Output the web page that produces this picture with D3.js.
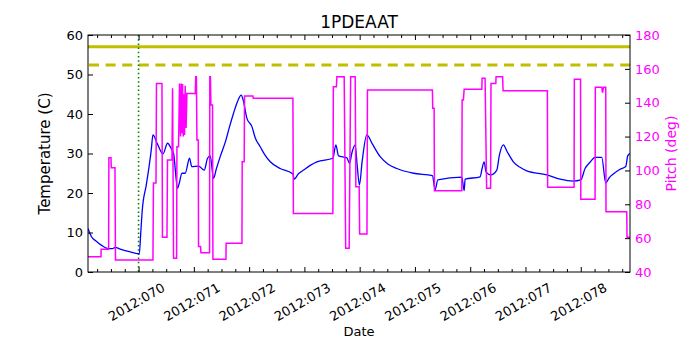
<!DOCTYPE html>
<html>
<head>
<meta charset="utf-8">
<script src="https://cdn.jsdelivr.net/npm/d3@7"></script>
<style>
  body { margin: 0; background: #fff; }
  text { font-family: "DejaVu Sans", sans-serif; }
</style>
</head>
<body>
<div id="chart"></div>
<script>
// day of year 2012, temperature (C)
var tempDays = [69.085, 69.145, 69.235, 69.325, 69.429, 69.524, 69.579, 69.669, 69.814, 70.013,
  70.040, 70.067, 70.139, 70.193, 70.230, 70.260, 70.338, 70.441, 70.524, 70.591,
  70.633, 70.705, 70.736, 70.785, 70.844, 70.922, 70.962, 71.085, 71.188, 71.248,
  71.297, 71.356, 71.405, 71.477, 71.580, 71.640, 71.718, 71.785, 71.857, 71.893,
  71.960, 72.051, 72.110, 72.201, 72.291, 72.382, 72.562, 72.792, 72.816, 72.888,
  72.984, 73.105, 73.226, 73.515, 73.570, 73.617, 73.769, 73.816, 73.865, 73.919,
  73.955, 73.996, 74.045, 74.130, 74.226, 74.371, 74.515, 74.673, 74.973, 75.316,
  75.365, 75.414, 75.848, 75.890, 75.908, 76.179, 76.215, 76.251, 76.288, 76.373,
  76.481, 76.528, 76.600, 76.667, 76.781, 76.902, 77.024, 77.385, 77.626, 77.866,
  78.000, 78.078, 78.168, 78.259, 78.380, 78.452, 78.512, 78.590, 78.711, 78.814,
  78.850, 78.891];
var tempValues = [11.0, 9.0, 7.8, 6.8, 6.0, 5.9, 6.25, 5.8, 5.2, 4.6,
  10.0, 15.7, 22.0, 27.0, 31.0, 34.7, 32.5, 29.9, 32.6, 31.2,
  30.0, 21.2, 22.5, 25.0, 25.0, 28.8, 26.7, 26.8, 25.8, 28.8,
  29.4, 23.7, 26.0, 29.2, 33.4, 36.5, 40.2, 43.0, 44.8, 43.5,
  38.9, 36.8, 34.0, 31.7, 29.5, 27.9, 26.2, 24.8, 23.5, 24.8,
  25.8, 27.0, 27.9, 28.8, 32.2, 29.4, 28.9, 27.5, 30.5, 32.2,
  27.0, 22.0, 28.0, 34.7, 32.5, 29.2, 27.3, 26.2, 25.0, 24.4,
  20.8, 23.3, 24.0, 20.6, 23.5, 24.1, 26.2, 27.9, 25.3, 24.6,
  25.8, 29.6, 32.2, 30.5, 27.9, 26.5, 25.6, 24.6, 23.5, 23.0,
  23.3, 26.2, 27.8, 29.0, 29.0, 22.5, 23.8, 24.8, 26.0, 26.7,
  29.4, 30.0];

// day of year 2012, pitch (deg)
var pitchDays = [69.085, 69.320, 69.322, 69.458, 69.463, 69.501, 69.506, 69.573, 69.582, 70.260,
  70.269, 70.315, 70.324, 70.423, 70.432, 70.514, 70.523, 70.604, 70.615, 70.633,
  70.688, 70.694, 70.723, 70.741, 70.759, 70.772, 70.785, 70.796, 70.808, 70.821,
  70.832, 70.844, 70.860, 70.875, 71.025, 71.034, 71.046, 71.056, 71.080, 71.085,
  71.121, 71.128, 71.284, 71.289, 71.300, 71.309, 71.338, 71.345, 71.580, 71.584,
  71.870, 71.875, 71.911, 71.917, 72.069, 72.075, 72.792, 72.801, 73.515, 73.524,
  73.579, 73.588, 73.720, 73.747, 73.810, 73.837, 73.919, 73.931, 73.991, 74.000,
  74.132, 74.141, 75.316, 75.322, 75.347, 75.353, 75.848, 75.854, 75.877, 75.890,
  76.210, 76.215, 76.269, 76.297, 76.369, 76.376, 76.463, 76.468, 76.586, 76.595,
  77.396, 77.401, 77.879, 77.884, 77.996, 78.001, 78.259, 78.264, 78.380, 78.394,
  78.412, 78.452, 78.457, 78.832, 78.837, 78.891];
var pitchValues = [49.0, 49.0, 53.4, 53.4, 107.5, 107.5, 101.6, 101.6, 47.1, 47.1,
  92.6, 92.6, 151.4, 151.4, 60.5, 60.5, 106.2, 106.2, 148.5, 48.1,
  48.1, 114.0, 114.0, 151.4, 120.0, 151.4, 122.0, 151.0, 120.0, 145.0,
  121.0, 150.0, 125.0, 145.5, 145.5, 155.3, 155.3, 118.0, 118.0, 55.0,
  55.0, 51.4, 51.4, 155.3, 155.3, 138.6, 138.6, 47.5, 47.5, 57.0,
  57.0, 105.2, 105.2, 144.0, 144.0, 142.6, 142.6, 74.6, 74.6, 149.5,
  149.5, 155.3, 155.3, 54.0, 54.0, 155.3, 155.3, 90.4, 90.4, 62.4,
  62.4, 147.5, 147.5, 136.7, 136.7, 88.0, 88.0, 141.6, 141.6, 148.0,
  148.0, 154.4, 154.4, 89.4, 89.4, 151.4, 151.4, 155.3, 155.3, 147.0,
  147.0, 90.0, 90.0, 153.8, 153.8, 83.0, 83.0, 149.1, 149.1, 146.0,
  149.1, 149.1, 75.6, 75.6, 60.5, 60.5];

var tickDays = [70, 71, 72, 73, 74, 75, 76, 77, 78];
var tickLabels = ["2012:070", "2012:071", "2012:072", "2012:073", "2012:074",
                  "2012:075", "2012:076", "2012:077", "2012:078"];
var tempTicks = [0, 10, 20, 30, 40, 50, 60];
var pitchTicks = [40, 60, 80, 100, 120, 140, 160, 180];
var limitPlanning = 57.0;   // solid yellow
var limitCaution = 52.4;    // dashed yellow
var startDay = 70.0;        // dotted green marker

var margin = {top: 35, right: 70, bottom: 78, left: 88},
    width = 700 - margin.left - margin.right,
    height = 350 - margin.top - margin.bottom;

var svg = d3.select("#chart")
  .append("svg")
    .attr("width", 700)
    .attr("height", 350)
  .append("g")
    .attr("transform", "translate(" + margin.left + "," + margin.top + ")");

var x = d3.scaleLinear().domain([69.085, 78.891]).range([0, width]);
var yT = d3.scaleLinear().domain([0, 60]).range([height, 0]);
var yP = d3.scaleLinear().domain([40, 180]).range([height, 0]);

svg.append("clipPath").attr("id", "clip")
  .append("rect").attr("width", width).attr("height", height);

var plot = svg.append("g").attr("clip-path", "url(#clip)");

// limit lines
plot.append("line")
  .attr("x1", 0).attr("x2", width)
  .attr("y1", yT(limitPlanning)).attr("y2", yT(limitPlanning))
  .attr("stroke", "#bfbf00").attr("stroke-width", 3);
plot.append("line")
  .attr("x1", 1).attr("x2", width)
  .attr("y1", yT(limitCaution)).attr("y2", yT(limitCaution))
  .attr("stroke", "#bfbf00").attr("stroke-width", 3)
  .attr("stroke-dasharray", "10,6.6");

// start marker
plot.append("line")
  .attr("x1", x(startDay)).attr("x2", x(startDay))
  .attr("y1", 0).attr("y2", height)
  .attr("stroke", "#008000").attr("stroke-width", 1.6)
  .attr("stroke-dasharray", "1.5,2.7");

var tempLine = d3.line()
  .x(function(d, i) { return x(tempDays[i]); })
  .y(function(d) { return yT(d); })
  .curve(d3.curveMonotoneX);
var pitchLine = d3.line()
  .x(function(d, i) { return x(pitchDays[i]); })
  .y(function(d) { return yP(d); });

plot.append("path")
  .datum(tempValues)
  .attr("d", tempLine)
  .attr("fill", "none")
  .attr("stroke", "#0000ff")
  .attr("stroke-width", 1.3);

plot.append("path")
  .datum(pitchValues)
  .attr("d", pitchLine)
  .attr("fill", "none")
  .attr("stroke", "#ff00ff")
  .attr("stroke-width", 1.5);

// minor ticks every 6 hours
var minorDays = d3.range(69.25, 78.9, 0.25).filter(function(d) { return Math.abs(d - Math.round(d)) > 0.01; });

function noDomain(g) { g.select(".domain").remove(); }

svg.append("g").attr("transform", "translate(0," + height + ")")
  .call(d3.axisBottom(x).tickValues(tickDays).tickSize(-5).tickFormat(""))
  .call(noDomain);
svg.append("g").attr("transform", "translate(0," + height + ")")
  .call(d3.axisBottom(x).tickValues(minorDays).tickSize(-3).tickFormat(""))
  .call(noDomain);
svg.append("g")
  .call(d3.axisTop(x).tickValues(tickDays).tickSize(-5).tickFormat(""))
  .call(noDomain);
svg.append("g")
  .call(d3.axisTop(x).tickValues(minorDays).tickSize(-3).tickFormat(""))
  .call(noDomain);

var left = svg.append("g")
  .call(d3.axisLeft(yT).tickValues(tempTicks).tickSize(-5).tickPadding(5))
  .call(noDomain);
left.selectAll("text").attr("font-size", 13).attr("font-family", "DejaVu Sans").attr("fill", "#000");

var right = svg.append("g").attr("transform", "translate(" + width + ",0)")
  .call(d3.axisRight(yP).tickValues(pitchTicks).tickSize(-5).tickPadding(5))
  .call(noDomain);
right.selectAll("text").attr("font-size", 13).attr("font-family", "DejaVu Sans").attr("fill", "#ff00ff");

// frame
svg.append("rect")
  .attr("width", width).attr("height", height)
  .attr("fill", "none").attr("stroke", "#000").attr("stroke-width", 1);

// rotated date labels
svg.append("g").selectAll("text")
  .data(tickLabels)
  .enter()
  .append("text")
    .text(function(d) { return d; })
    .attr("font-size", 13)
    .attr("text-anchor", "middle")
    .attr("dominant-baseline", "central")
    .attr("transform", function(d, i) {
      return "translate(" + (x(tickDays[i]) - 2) + "," + (height + 30) + ") rotate(-30)";
    });

svg.append("text")
  .attr("x", width / 2).attr("y", height + 64)
  .attr("text-anchor", "middle").attr("font-size", 13)
  .text("Date");

svg.append("text")
  .attr("transform", "translate(-38," + (height / 2) + ") rotate(-90)")
  .attr("text-anchor", "middle").attr("font-size", 15)
  .text("Temperature (C)");

svg.append("text")
  .attr("transform", "translate(" + (width + 46) + "," + (height / 2) + ") rotate(-90)")
  .attr("text-anchor", "middle").attr("font-size", 14)
  .attr("fill", "#ff00ff")
  .text("Pitch (deg)");

svg.append("text")
  .attr("x", width / 2).attr("y", -7)
  .attr("text-anchor", "middle").attr("font-size", 17)
  .text("1PDEAAT");
</script>
</body>
</html>
